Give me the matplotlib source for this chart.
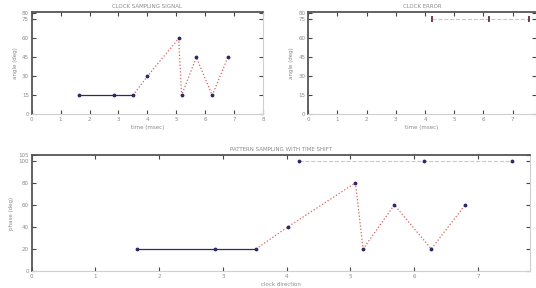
import matplotlib
matplotlib.use('Agg')
import matplotlib.pyplot as plt

# clock sampling (top left)
t_clk = [1.63, 2.85, 3.5, 4.0, 5.08, 5.18, 5.69, 6.24, 6.78]
ang_clk = [15, 15, 15, 30, 60, 15, 45, 15, 45]
# clock error (top right)
t_err = [4.23, 6.18, 7.57]
ang_err = [75, 75, 75]
# pattern sampling (bottom)
t_pat = [1.65, 2.87, 3.52, 4.02, 5.08, 5.20, 5.69, 6.27, 6.80]
val_pat = [20, 20, 20, 40, 80, 20, 60, 20, 60]
t_pat_top = [4.2, 6.16, 7.54]
val_pat_top = [100, 100, 100]

yt_small = [0, 15, 30, 45, 60, 75, 80]
yt_big = [0, 20, 40, 60, 80, 100, 105]

NAVY = '#2e2a63'
RED = '#cc3a3a'
GRAY = '#8a8a8a'


def style(ax):
    for s in ['bottom', 'right']:
        ax.spines[s].set_color('#cfcfcf')
        ax.spines[s].set_linewidth(0.8)
    for s in ['left', 'top']:
        ax.spines[s].set_color('#555555')
        ax.spines[s].set_linewidth(1.3)
    ax.tick_params(labelsize=4, colors='#444444', labelcolor=GRAY, length=3,
                   width=0.8, direction='in', top=True, right=True, pad=2)


def split_plot(ax, x, y):
    ax.plot(x[:3], y[:3], '-', color=NAVY, lw=0.9)
    ax.plot(x[2:], y[2:], ':', color=RED, lw=0.9, alpha=0.8)
    ax.plot(x, y, '.', color=NAVY, ms=3.5, ls='none')


fig = plt.figure(figsize=(5.36, 2.88), dpi=100)

ax1 = fig.add_axes([0.059, 0.603, 0.432, 0.354])
split_plot(ax1, t_clk, ang_clk)
ax1.set_xlim(0, 8)
ax1.set_ylim(0, 80.5)
ax1.set_xticks(range(0, 9))
ax1.set_yticks(yt_small)
style(ax1)
ax1.set_title('CLOCK SAMPLING SIGNAL', fontsize=4, color=GRAY, pad=3)
ax1.set_xlabel('time (msec)', fontsize=4, color=GRAY, labelpad=2)
ax1.set_ylabel('angle (deg)', fontsize=4, color=GRAY, labelpad=3)

ax2 = fig.add_axes([0.575, 0.603, 0.425, 0.354])
ax2.plot(t_err, ang_err, '--', color=RED, lw=0.8, alpha=0.35)
ax2.plot(t_err, ang_err, '|', color='#5a2030', ms=4, mew=1.2, ls='none')
ax2.set_xlim(0, 7.8)
ax2.set_ylim(0, 80.5)
ax2.set_xticks(range(0, 8))
ax2.set_yticks(yt_small)
style(ax2)
ax2.set_title('CLOCK ERROR', fontsize=4, color=GRAY, pad=3)
ax2.set_xlabel('time (msec)', fontsize=4, color=GRAY, labelpad=2)
ax2.set_ylabel('angle (deg)', fontsize=4, color=GRAY, labelpad=3)

ax3 = fig.add_axes([0.059, 0.059, 0.93, 0.403])
split_plot(ax3, t_pat, val_pat)
ax3.plot(t_pat_top, val_pat_top, '--', color=RED, lw=0.8, alpha=0.35)
ax3.plot(t_pat_top, val_pat_top, '.', color=NAVY, ms=3.5, ls='none')
ax3.set_xlim(0, 7.82)
ax3.set_ylim(0, 105.3)
ax3.set_xticks(range(0, 8))
ax3.set_yticks(yt_big)
style(ax3)
ax3.set_title('PATTERN SAMPLING WITH TIME SHIFT', fontsize=4, color=GRAY, pad=3)
ax3.set_xlabel('clock direction', fontsize=4, color=GRAY, labelpad=2)
ax3.set_ylabel('phase (deg)', fontsize=4, color=GRAY, labelpad=3)

fig.savefig('out.png', dpi=100)
